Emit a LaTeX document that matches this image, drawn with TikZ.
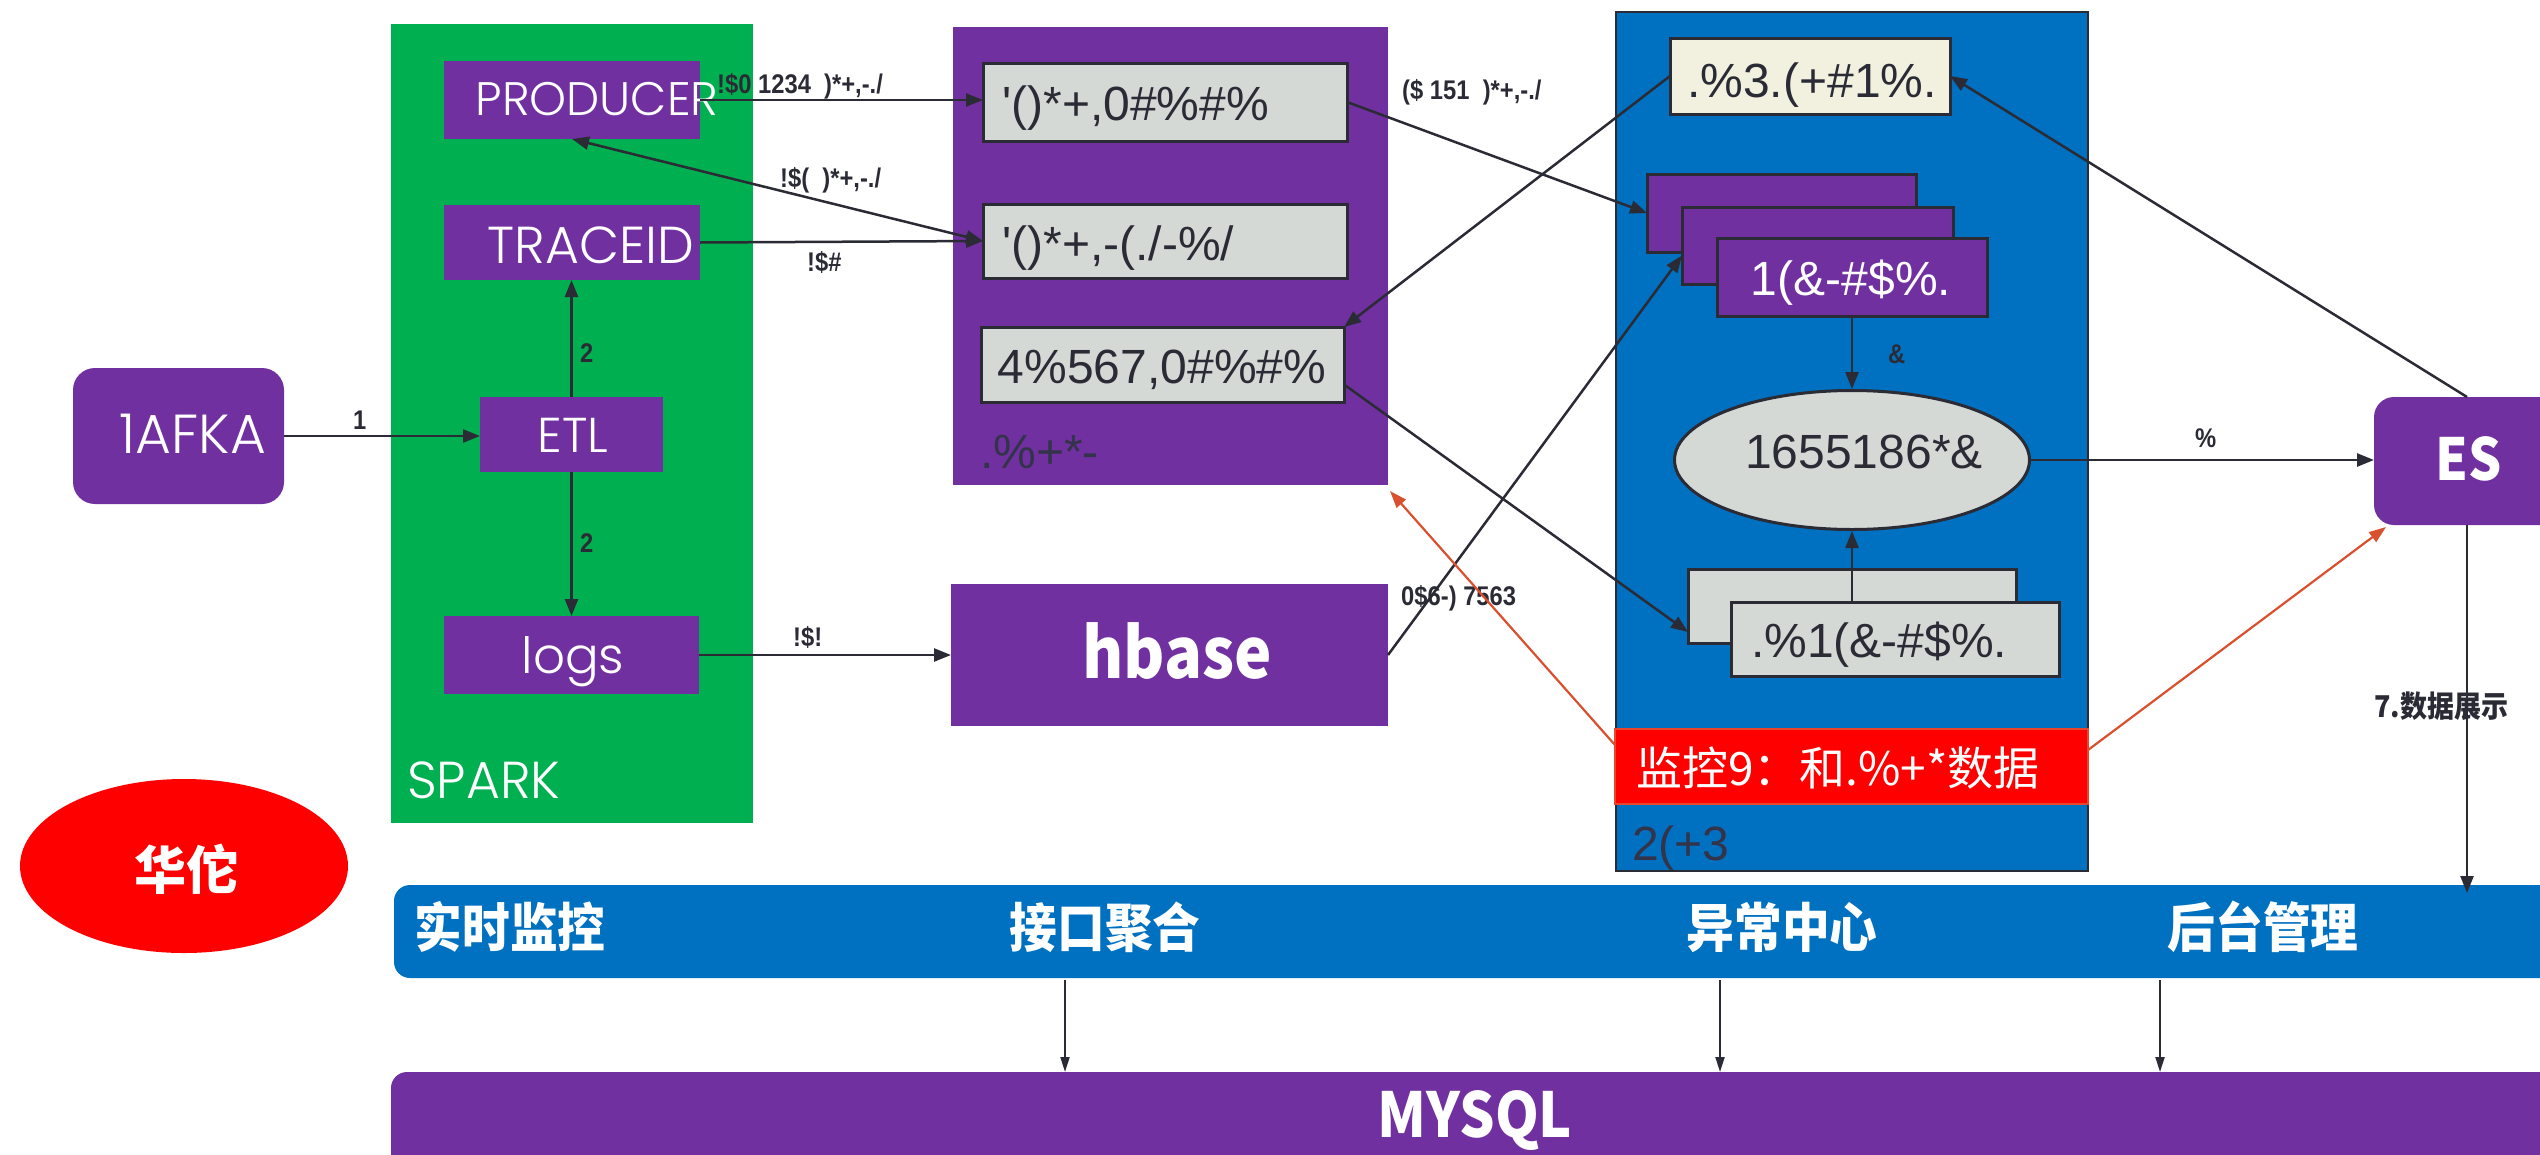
\documentclass[tikz,border=0pt]{standalone}
\usepackage{fontspec}
\usetikzlibrary{arrows.meta,calc,shapes.geometric}
\newfontfamily\geo{Poppins Light}
\newfontfamily\arialf{Liberation Sans}
\newfontfamily\arialn{Liberation Sans}[FakeStretch=0.88]
\newfontfamily\cjk{Noto Sans CJK SC}
\newfontfamily\cjkn{Noto Sans CJK SC}[FakeStretch=0.9]
\newcommand{\fsz}[1]{\fontsize{#1}{#1}\selectfont}
\definecolor{cgreen}{HTML}{00B050}
\definecolor{cpurple}{HTML}{7030A0}
\definecolor{cblue}{HTML}{0070C0}
\definecolor{cgray}{HTML}{D4D9D5}
\definecolor{ccream}{HTML}{F2F1DF}
\definecolor{dk}{HTML}{2B2B36}
\definecolor{dklabel}{HTML}{33334A}
\definecolor{credline}{HTML}{D9502F}
\definecolor{credborder}{HTML}{E8452C}
\begin{document}
\begin{tikzpicture}[x=1pt,y=-1pt,
  rct/.style={rectangle, inner sep=0pt, outer sep=0pt, anchor=north west},
  graybox/.style={fill=cgray, draw=dk, line width=3pt},
  pstack/.style={fill=cpurple, draw=dk, line width=3pt},
  geotxt/.style={inner sep=0pt, text=white, font=\geo\fsz{47}},
  arialtxt/.style={inner sep=0pt, text=dk, font=\arialf\fsz{48}},
  lbl/.style={inner sep=0pt, text=dk, font=\arialn\bfseries\fsz{27}, anchor=base west},
  cjkb/.style={inner sep=0pt, text=white, font=\cjkn\bfseries\fsz{53}},
  arr/.style={draw=dk, line width=2.5pt, -{Triangle[length=17pt,width=13pt]}},
  arrthin/.style={draw=dk, line width=2pt, -{Triangle[length=15pt,width=9pt]}},
  redarr/.style={draw=credline, line width=2.2pt, -{Triangle[length=17pt,width=12pt]}}
]
\useasboundingbox (0,0) rectangle (2540,1154);
\clip (0,0) rectangle (2540,1154);

% ---------- SPARK panel ----------
\node[rct, fill=cgreen, minimum width=362pt, minimum height=799pt] (spark) at (391,24) {};
\node[geotxt, anchor=base west, font=\geo\fsz{52}] (sparkT) at (407,798) {SPARK};
\node[rct, fill=cpurple, minimum width=256pt, minimum height=78pt] (producer) at (444,61) {};
\node[geotxt, anchor=base] (producerT) at (597,115) {PRODUCER};
\node[rct, fill=cpurple, minimum width=256pt, minimum height=75pt] (traceid) at (444,205) {};
\node[geotxt, anchor=base, font=\geo\fsz{52}] (traceidT) at (591,263) {TRACEID};
\node[rct, fill=cpurple, minimum width=183pt, minimum height=75pt] (etl) at (480,397) {};
\node[geotxt, anchor=base, font=\geo\fsz{49}] (etlT) at (573,452) {ETL};
\node[rct, fill=cpurple, minimum width=255pt, minimum height=78pt] (logs) at (444,616) {};
\node[geotxt, anchor=base, font=\geo\fsz{50}] (logsT) at (573,673) {logs};

% ---------- KAFKA, Huatuo ----------
\node[rct, fill=cpurple, rounded corners=22pt, minimum width=211pt, minimum height=136pt] (kafka) at (73,368) {};
\node[geotxt, anchor=base, font=\geo\fsz{55}] (kafkaT) at (193,453) {1AFKA};
\node[ellipse, fill=red, minimum width=328pt, minimum height=174pt, inner sep=0pt] (huatuo) at (184,866) {};
\node[cjkb, anchor=base, font=\cjk\bfseries\fsz{52}] (huatuoT) at (186,889) {华佗};

% ---------- middle purple panel ----------
\node[rct, fill=cpurple, minimum width=435pt, minimum height=458pt] (mid) at (953,27) {};
\node[rct, graybox, minimum width=364pt, minimum height=78pt] (box1) at (983,63) {};
\node[arialtxt, anchor=base west] (box1T) at (1002,120) {'()*+,0\#\%\#\%};
\node[rct, graybox, minimum width=364pt, minimum height=74pt] (box2) at (983,204) {};
\node[arialtxt, anchor=base west] (box2T) at (1002,260) {'()*+,-(./-\%/};
\node[rct, graybox, minimum width=363pt, minimum height=75pt] (box3) at (981,327) {};
\node[arialtxt, anchor=base] (box3T) at (1162,383) {4\%567,0\#\%\#\%};
\node[arialtxt, anchor=base west, text=dklabel] (midT) at (980,468) {.\%+*-};

% ---------- hbase ----------
\node[rct, fill=cpurple, minimum width=437pt, minimum height=142pt] (hbase) at (951,584) {};
\node[cjkb, anchor=base, font=\cjkn\bfseries\fsz{70}] (hbaseT) at (1177,678) {hbase};

% ---------- blue panel ----------
\node[rct, fill=cblue, draw=dk, line width=2pt, minimum width=472pt, minimum height=859pt] (blue) at (1616,12) {};
\node[rct, fill=ccream, draw=dk, line width=3pt, minimum width=280pt, minimum height=76pt] (cream) at (1670,38) {};
\node[arialtxt, anchor=base] (creamT) at (1812,97) {.\%3.(+\#1\%.};
\node[rct, pstack, minimum width=269pt, minimum height=78pt] (sback) at (1647,174) {};
\node[rct, pstack, minimum width=271pt, minimum height=77pt] (smid) at (1682,207) {};
\node[rct, pstack, minimum width=270pt, minimum height=78pt] (sfront) at (1717,238) {};
\node[arialtxt, text=white, anchor=base] (sfrontT) at (1851,295) {1(\&-\#\$\%.};
\node[ellipse, fill=cgray, draw=dk, line width=3pt, minimum width=355pt, minimum height=139pt, inner sep=0pt] (ell) at (1852,460) {};
\node[arialtxt, anchor=base] (ellT) at (1864,468) {1655186*\&};
\node[rct, graybox, minimum width=328pt, minimum height=74pt] (lback) at (1688,569) {};
\node[rct, graybox, minimum width=328pt, minimum height=74pt] (lfront) at (1731,602) {};
\node[arialtxt, anchor=base west] (lfrontT) at (1751,657) {.\%1(\&-\#\$\%.};
\node[rct, fill=red, draw=credborder, line width=2.5pt, minimum width=473pt, minimum height=75pt] (redbox) at (1615,729) {};
\node[inner sep=0pt, text=white, font=\cjk\fsz{46}, anchor=base west] (redT) at (1636,785) {监控9：和.\%+*数据};
\node[arialtxt, anchor=base west, text=dklabel] (blueT) at (1632,860) {2(+3};

% ---------- ES ----------
\node[rct, fill=cpurple, rounded corners=20pt, minimum width=186pt, minimum height=128pt] (es) at (2374,397) {};
\node[cjkb, anchor=base, font=\cjkn\bfseries\fsz{58}] (esT) at (2469,480) {ES};

% ---------- bottom bars ----------
\node[rct, fill=cblue, rounded corners=16pt, minimum width=2180pt, minimum height=93pt] (bar) at (394,885) {};
\node[cjkb, anchor=base] (bar1) at (510,947) {实时监控};
\node[cjkb, anchor=base] (bar2) at (1105,947) {接口聚合};
\node[cjkb, anchor=base] (bar3) at (1782,947) {异常中心};
\node[cjkb, anchor=base] (bar4) at (2263,947) {后台管理};
\node[rct, fill=cpurple, rounded corners=16pt, minimum width=2180pt, minimum height=110pt] (mysql) at (391,1072) {};
\node[cjkb, anchor=base, font=\cjkn\bfseries\fsz{62}] (mysqlT) at (1475,1137) {MYSQL};

% ---------- arrows ----------
\draw[arr] (kafka.east) -- (kafka.east -| etl.west);
\node[lbl] (l1) at (353,429) {1};
\draw[arr] (etl.north) -- (etl.north |- traceid.south);
\node[lbl] (l2a) at (580,362) {2};
\draw[arr] (etl.south) -- (etl.south |- logs.north);
\node[lbl] (l2b) at (580,552) {2};
\draw[arr] (producer.east) -- (producer.east -| box1.west);
\node[lbl] (lp) at (717,93) {!\$0 1234\ \ )*+,-./};
\draw[arr, {Triangle[length=17pt,width=13pt]}-{Triangle[length=17pt,width=13pt]}] (producer.south) -- (box2.west);
\node[lbl] (lp2) at (780,187) {!\$(\ \ )*+,-./};
\draw[arr] (traceid.east) -- (box2.west);
\node[lbl] (lt) at (807,271) {!\$\#};
\draw[arr] (logs.east) -- (logs.east -| hbase.west);
\node[lbl] (ll) at (793,646) {!\$!};
\draw[arr] (box1.east) -- (sback.west);
\node[lbl] (lb1) at (1402,99) {(\$ 151\ \ )*+,-./};
\draw[arr] (cream.west) -- (box3.north east);
\draw[arr] ($(box3.east)+(0,20)$) -- ($(lback.south west)+(0,-11)$);
\draw[arr] (hbase.east) -- ($(smid.west)+(0,10)$);
\node[lbl] (lh) at (1401,605) {0\$6-) 7563};
\draw[arr] (sfront.south) -- (sfront.south |- ell.north);
\node[lbl] (lamp) at (1888,363) {\&};
\draw[arr] (lfront.north west -| ell.south) -- (ell.south);
\draw[arr] (ell.east) -- (ell.east -| es.west);
\node[lbl] (lpct) at (2195,447) {\%};
\draw[arr] (es.north) -- (cream.east);
\draw[redarr] ($(redbox.north west)+(0,16)$) -- ($(mid.south east)+(2,6)$);
\draw[redarr] ($(redbox.north east)+(0,21)$) -- ($(es.south west)+(12,2)$);
\draw[arr] (es.south) -- ($(es.south |- bar.north)+(0,8)$);
\node[lbl, font=\cjkn\bfseries\fsz{30}] (lshow) at (2374,717) {7.数据展示};
\coordinate (m1) at (1065,0);
\coordinate (m2) at (1720,0);
\coordinate (m3) at (2160,0);
\draw[arrthin] ($(bar.south -| m1)+(0,2)$) -- (mysql.north -| m1);
\draw[arrthin] ($(bar.south -| m2)+(0,2)$) -- (mysql.north -| m2);
\draw[arrthin] ($(bar.south -| m3)+(0,2)$) -- (mysql.north -| m3);
\end{tikzpicture}
\end{document}
